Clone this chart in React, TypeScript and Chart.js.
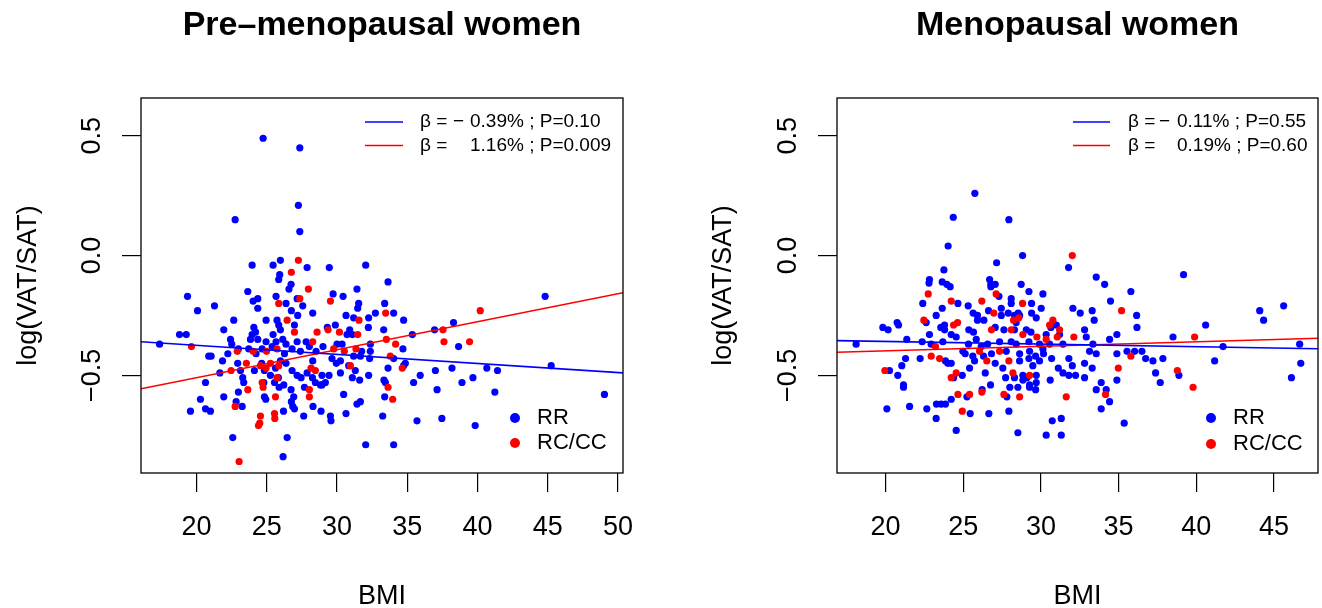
import React, { useEffect, useRef } from "react";
import { Chart, registerables } from "chart.js";

Chart.register(...registerables);

const FONT = '"Liberation Sans", Arial, Helvetica, sans-serif';
const BLUE = "#0000FF";
const RED = "#FF0000";

// ---------------- Pre-menopausal women ----------------
const preRR_BMI = [
  24.74, 27.35, 27.25, 27.35, 22.75, 23.96, 25.45, 25.97, 27.87, 29.45, 32.04, 25.92, 25.85, 26.73, 33.63, 26.58,
  23.65, 31.42, 19.36, 24.36, 25.66, 27.16, 29.72, 30.43, 24.03, 26.37, 21.28, 24.36, 27.56, 31.54, 31.47, 20.07,
  26.75, 27.2, 28.27, 33.39, 34.03, 30.64, 31.18, 32.25, 32.73, 22.65, 24.95, 25.73, 26.97, 34.74, 21.94, 24.08,
  25.85, 25.97, 29.31, 29.88, 30.9, 32.23, 33.32, 18.79, 19.27, 23.96, 24.2, 25.45, 30.71, 31.09, 35.36, 36.94,
  38.29, 44.81, 22.42, 23.84, 24.36, 24.95, 25.66, 26.14, 26.37, 27.16, 27.8, 28.03, 29.0, 30.0, 30.36, 32.37,
  17.37, 22.51, 22.98, 23.72, 24.67, 25.38, 26.8, 27.39, 28.51, 31.75, 32.37, 38.65, 21.04, 20.87, 22.23, 24.24,
  26.26, 29.64, 31.18, 31.66, 32.32, 34.69, 34.03, 21.85, 24.64, 25.97, 26.37, 28.27, 29.95, 30.24, 30.83, 34.86,
  34.74, 22.93, 21.66, 23.13, 24.12, 24.83, 25.62, 26.8, 27.16, 27.87, 31.3, 32.25, 33.63, 37.0, 38.18, 40.66,
  41.42, 45.24, 35.92, 23.29, 25.26, 25.83, 27.44, 28.25, 28.93, 29.43, 30.24, 31.09, 33.34, 39.67, 20.64, 23.36,
  24.79, 25.55, 26.21, 28.46, 28.93, 29.17, 31.61, 33.44, 35.45, 38.89, 25.88, 27.68, 28.82, 22.98, 26.73, 37.12,
  41.23, 30.47, 49.03, 20.28, 21.94, 24.93, 26.92, 33.39, 24.83, 22.82, 23.25, 26.85, 26.75, 31.66, 31.42, 20.64,
  20.99, 19.57, 26.19, 26.97, 28.29, 28.86, 30.64, 27.63, 29.53, 33.25, 29.57, 35.69, 37.46, 39.83, 22.58, 26.45,
  32.04, 34.03, 26.16,
];
const preRR_LOG = [
  0.49, 0.45, 0.21, 0.1, 0.15, -0.04, -0.04, -0.02, -0.05, -0.05, -0.04, -0.08, -0.1, -0.12, -0.11, -0.14,
  -0.15, -0.14, -0.17, -0.18, -0.17, -0.18, -0.16, -0.17, -0.19, -0.2, -0.21, -0.22, -0.21, -0.2, -0.22, -0.23,
  -0.23, -0.25, -0.24, -0.2, -0.24, -0.25, -0.26, -0.26, -0.24, -0.27, -0.27, -0.27, -0.29, -0.27, -0.31, -0.3,
  -0.29, -0.31, -0.3, -0.29, -0.31, -0.3, -0.31, -0.33, -0.33, -0.33, -0.32, -0.33, -0.33, -0.33, -0.33, -0.31,
  -0.28, -0.17, -0.35, -0.35, -0.35, -0.36, -0.36, -0.35, -0.37, -0.36, -0.36, -0.38, -0.38, -0.37, -0.37, -0.37,
  -0.37, -0.37, -0.39, -0.39, -0.39, -0.38, -0.39, -0.4, -0.4, -0.4, -0.4, -0.38, -0.42, -0.42, -0.41, -0.41,
  -0.41, -0.43, -0.42, -0.42, -0.43, -0.39, -0.43, -0.44, -0.45, -0.44, -0.45, -0.44, -0.45, -0.44, -0.46, -0.45,
  -0.46, -0.45, -0.49, -0.48, -0.48, -0.48, -0.47, -0.48, -0.5, -0.49, -0.48, -0.5, -0.47, -0.48, -0.47, -0.47,
  -0.48, -0.46, -0.5, -0.51, -0.5, -0.51, -0.51, -0.51, -0.5, -0.5, -0.49, -0.51, -0.52, -0.51, -0.53, -0.53,
  -0.53, -0.53, -0.54, -0.53, -0.54, -0.53, -0.52, -0.53, -0.53, -0.53, -0.55, -0.55, -0.54, -0.57, -0.56, -0.56,
  -0.57, -0.58, -0.58, -0.6, -0.59, -0.6, -0.59, -0.59, -0.59, -0.61, -0.63, -0.63, -0.61, -0.61, -0.62, -0.64,
  -0.65, -0.65, -0.65, -0.64, -0.63, -0.65, -0.66, -0.67, -0.67, -0.67, -0.69, -0.69, -0.68, -0.71, -0.76, -0.76,
  -0.79, -0.79, -0.84,
];
const preRC_BMI = [
  27.25, 26.75, 27.96, 27.35, 29.53, 25.85, 33.46, 31.56, 26.45, 29.36, 30.17, 28.58, 26.97, 31.47, 37.54, 40.19,
  28.27, 33.51, 34.17, 19.64, 25.73, 29.76, 30.52, 31.35, 37.61, 39.43, 22.9, 24.03, 24.98, 33.79, 25.26, 23.55,
  22.46, 24.55, 24.95, 25.85, 28.15, 28.46, 30.95, 34.64, 25.73, 24.67, 24.74, 23.65, 28.03, 33.63, 25.62, 28.03,
  33.96, 22.75, 24.55, 25.55, 25.57, 24.5, 24.41, 23.03,
];
const preRC_LOG = [
  -0.02, -0.07, -0.14, -0.18, -0.19, -0.2, -0.24, -0.27, -0.27, -0.31, -0.32, -0.32, -0.32, -0.33, -0.31, -0.23,
  -0.36, -0.35, -0.37, -0.38, -0.39, -0.39, -0.4, -0.39, -0.36, -0.36, -0.4, -0.4, -0.4, -0.42, -0.45, -0.45,
  -0.48, -0.46, -0.47, -0.46, -0.47, -0.48, -0.46, -0.47, -0.51, -0.53, -0.55, -0.56, -0.56, -0.55, -0.59, -0.59,
  -0.6, -0.63, -0.67, -0.66, -0.68, -0.7, -0.71, -0.86,
];
const preFitX = [16.05, 50.35];
const preFitRR = [-0.36, -0.49];
const preFitRC = [-0.556, -0.155];
const preXTicks = [20, 25, 30, 35, 40, 45, 50];

// ---------------- Menopausal women ----------------
const menoRR_BMI = [
  25.75, 24.36, 27.94, 24.03, 28.82, 31.78, 27.15, 23.76, 39.18, 22.83, 23.65, 23.95, 24.16, 22.8, 26.7, 26.78,
  27.06, 26.78, 28.73, 33.56, 34.1, 27.3, 29.23, 30.13, 35.79, 22.4, 24.66, 23.65, 28.09, 28.09, 29.4, 34.48,
  25.32, 26.63, 27.45, 27.9, 28.54, 29.4, 30.02, 23.26, 25.64, 25.92, 27.45, 28.3, 28.63, 29.7, 32.06, 32.53,
  33.3, 36.16, 44.08, 45.62, 22.62, 20.75, 20.84, 19.83, 20.17, 23.56, 23.8, 25.92, 26.33, 28.41, 30.99, 30.64,
  33.43, 36.18, 40.6, 44.33, 23.8, 22.83, 24.23, 24.55, 25.36, 25.66, 27.06, 27.62, 28.3, 29.06, 29.36, 30.34,
  31.2, 32.81, 32.92, 34.89, 38.5, 21.37, 22.36, 18.11, 22.94, 23.69, 25.34, 25.84, 26.16, 26.57, 27.34, 28.09,
  28.41, 29.23, 29.91, 30.13, 30.56, 31.42, 33.35, 34.42, 41.72, 46.65, 24.98, 25.13, 25.62, 26.31, 26.82, 27.77,
  28.63, 29.27, 29.66, 30.17, 30.69, 33.13, 33.56, 34.89, 35.54, 36.03, 36.5, 21.29, 22.23, 23.86, 25.73, 27.06,
  28.63, 29.23, 29.91, 31.8, 36.74, 37.21, 37.85, 41.18, 46.72, 21.05, 24.01, 24.23, 25.41, 27.55, 29.48, 31.12,
  32.02, 32.81, 33.3, 20.26, 20.79, 24.38, 24.94, 26.42, 27.73, 28.3, 28.84, 29.1, 29.7, 31.42, 31.8, 32.23,
  32.81, 34.89, 46.12, 38.88, 21.16, 21.16, 28.84, 29.27, 29.7, 30.6, 26.76, 28.0, 28.52, 29.27, 29.66, 26.22,
  33.88, 33.56, 34.2, 37.68, 37.38, 25.24, 27.81, 24.23, 34.42, 23.28, 23.58, 23.86, 21.55, 22.66, 20.09, 33.88,
  25.45, 26.65, 27.94, 23.26, 30.73, 31.31, 35.36, 24.55, 28.52, 30.34, 31.31,
];
const menoRR_LOG = [
  0.26, 0.16, 0.15, 0.04, 0.0, -0.05, -0.03, -0.06, -0.08, -0.1, -0.11, -0.12, -0.13, -0.115, -0.1, -0.12,
  -0.12, -0.13, -0.12, -0.09, -0.12, -0.17, -0.15, -0.16, -0.15, -0.2, -0.2, -0.22, -0.18, -0.2, -0.2, -0.19,
  -0.21, -0.23, -0.22, -0.24, -0.24, -0.24, -0.22, -0.25, -0.24, -0.25, -0.25, -0.25, -0.25, -0.26, -0.22, -0.24,
  -0.23, -0.25, -0.23, -0.21, -0.28, -0.28, -0.29, -0.3, -0.31, -0.3, -0.29, -0.27, -0.27, -0.28, -0.29, -0.3,
  -0.27, -0.3, -0.29, -0.27, -0.31, -0.33, -0.33, -0.34, -0.31, -0.32, -0.3, -0.31, -0.31, -0.31, -0.32, -0.33,
  -0.33, -0.31, -0.34, -0.33, -0.34, -0.35, -0.36, -0.37, -0.37, -0.36, -0.37, -0.35, -0.38, -0.37, -0.36, -0.36,
  -0.37, -0.36, -0.37, -0.39, -0.37, -0.37, -0.37, -0.35, -0.38, -0.37, -0.4, -0.41, -0.42, -0.42, -0.41, -0.4,
  -0.41, -0.4, -0.42, -0.41, -0.43, -0.4, -0.41, -0.41, -0.4, -0.4, -0.4, -0.43, -0.43, -0.44, -0.44, -0.45,
  -0.44, -0.43, -0.44, -0.43, -0.43, -0.44, -0.43, -0.44, -0.45, -0.46, -0.45, -0.45, -0.47, -0.47, -0.46, -0.47,
  -0.46, -0.45, -0.47, -0.48, -0.5, -0.51, -0.5, -0.49, -0.51, -0.51, -0.5, -0.51, -0.5, -0.49, -0.5, -0.5,
  -0.51, -0.52, -0.51, -0.5, -0.54, -0.55, -0.52, -0.54, -0.53, -0.52, -0.54, -0.55, -0.55, -0.55, -0.56, -0.56,
  -0.53, -0.56, -0.56, -0.53, -0.49, -0.59, -0.59, -0.6, -0.61, -0.62, -0.62, -0.62, -0.63, -0.64, -0.64, -0.64,
  -0.66, -0.66, -0.65, -0.68, -0.69, -0.68, -0.7, -0.73, -0.74, -0.75, -0.75,
];
const menoRC_BMI = [
  32.02, 22.75, 27.12, 24.23, 26.2, 28.82, 35.19, 26.97, 22.47, 24.38, 24.64, 28.24, 28.58, 30.77, 30.56, 31.2,
  26.82, 28.09, 28.84, 29.74, 30.34, 31.05, 32.12, 39.89, 23.22, 27.34, 26.05, 35.79, 22.94, 23.48, 26.52, 27.94,
  34.98, 19.96, 24.55, 24.23, 28.2, 29.27, 38.78, 39.79, 24.66, 25.41, 26.2, 27.62, 28.63, 31.63, 34.16, 24.94,
];
const menoRC_LOG = [
  0.0, -0.16, -0.16, -0.19, -0.19, -0.2, -0.23, -0.24, -0.27, -0.29, -0.28, -0.27, -0.26, -0.27, -0.29, -0.31,
  -0.31, -0.31, -0.33, -0.34, -0.35, -0.34, -0.34, -0.34, -0.38, -0.4, -0.4, -0.42, -0.42, -0.43, -0.44, -0.44,
  -0.47, -0.48, -0.49, -0.51, -0.49, -0.5, -0.48, -0.55, -0.58, -0.58, -0.57, -0.58, -0.59, -0.59, -0.58, -0.65,
];
const menoFitX = [16.88, 47.83];
const menoFitRR = [-0.355, -0.389];
const menoFitRC = [-0.404, -0.345];
const menoXTicks = [20, 25, 30, 35, 40, 45];

const yTicks = [-0.5, 0, 0.5];
const groupLabels = ["RR", "RC/CC"];
const preStats = [
  ["β =", "−", "0.39% ; P=0.10"],
  ["β =", "", "1.16% ; P=0.009"],
];
const menoStats = [
  ["β =", "−", "0.11% ; P=0.55"],
  ["β =", "", "0.19% ; P=0.60"],
];

const zip = (xs: number[], ys: number[]) => xs.map((x, i) => ({ x, y: ys[i] }));
const fmtY = (v: number) => (v < 0 ? "−" : "") + Math.abs(v).toFixed(1);

const decorPlugin = {
  id: "decor",
  afterDatasetsDraw(chart: any, _args: any, opts: any) {
    const { ctx, chartArea: a } = chart;
    ctx.save();
    ctx.strokeStyle = "#000";
    ctx.lineWidth = 1.3;
    ctx.strokeRect(a.left, a.top, a.right - a.left, a.bottom - a.top);

    // regression legend
    const L = opts.stat;
    ctx.font = `19px ${FONT}`;
    ctx.textBaseline = "middle";
    ctx.textAlign = "left";
    L.rows.forEach((row: string[], i: number) => {
      const y = L.y0 + i * L.dy;
      ctx.strokeStyle = i === 0 ? BLUE : RED;
      ctx.lineWidth = 1.6;
      ctx.beginPath();
      ctx.moveTo(L.lineX0, y);
      ctx.lineTo(L.lineX1, y);
      ctx.stroke();
      ctx.fillStyle = "#000";
      ctx.fillText(row[0], L.betaX, y);
      if (row[1]) ctx.fillText(row[1], L.signX, y);
      ctx.fillText(row[2], L.numX, y);
    });

    // group legend
    const G = opts.group;
    ctx.font = `22px ${FONT}`;
    groupLabels.forEach((lab, i) => {
      const y = G.y0 + i * G.dy;
      ctx.fillStyle = i === 0 ? BLUE : RED;
      ctx.beginPath();
      ctx.arc(G.dotX, y, 5, 0, Math.PI * 2);
      ctx.fill();
      ctx.fillStyle = "#000";
      ctx.fillText(lab, G.textX, y);
    });
    ctx.restore();
  },
};

type PanelCfg = {
  title: string;
  rrX: number[];
  rrY: number[];
  rcX: number[];
  rcY: number[];
  fitX: number[];
  fitRR: number[];
  fitRC: number[];
  xTicks: number[];
  xMin: number;
  xMax: number;
  yAxisWidth: number;
  padRight: number;
  yTitlePad: number;
  stats: string[][];
  stat: any;
  group: any;
};

function Panel({ cfg, left }: { cfg: PanelCfg; left: number }) {
  const ref = useRef<HTMLCanvasElement | null>(null);
  useEffect(() => {
    if (!ref.current) return;
    const chart = new Chart(ref.current, {
      type: "scatter",
      data: {
        datasets: [
          {
            label: "fitRR",
            data: zip(cfg.fitX, cfg.fitRR),
            showLine: true,
            borderColor: BLUE,
            borderWidth: 1.6,
            pointRadius: 0,
            order: 0,
          } as any,
          {
            label: "fitRC",
            data: zip(cfg.fitX, cfg.fitRC),
            showLine: true,
            borderColor: RED,
            borderWidth: 1.6,
            pointRadius: 0,
            order: 1,
          },
          {
            label: "RC/CC",
            data: zip(cfg.rcX, cfg.rcY),
            backgroundColor: RED,
            borderWidth: 0,
            pointRadius: 3.6,
            order: 2,
          },
          {
            label: "RR",
            data: zip(cfg.rrX, cfg.rrY),
            backgroundColor: BLUE,
            borderWidth: 0,
            pointRadius: 3.6,
            order: 3,
          },
        ],
      },
      options: {
        responsive: false,
        animation: false,
        devicePixelRatio: 1,
        events: [],
        layout: { padding: { left: 0, right: cfg.padRight, top: 0, bottom: 0 } },
        plugins: {
          legend: { display: false },
          tooltip: { enabled: false },
          title: {
            display: true,
            text: cfg.title,
            fullSize: false,
            color: "#000",
            font: { family: FONT, size: 34, weight: "bold" },
            padding: { top: 5, bottom: 52.2 },
          },
          decor: { stat: { ...cfg.stat, rows: cfg.stats }, group: cfg.group },
        } as any,
        scales: {
          x: {
            type: "linear",
            min: cfg.xMin,
            max: cfg.xMax,
            afterBuildTicks: (s: any) => {
              s.ticks = cfg.xTicks.map((v) => ({ value: v }));
            },
            afterFit: (s: any) => {
              s.height = 135;
            },
            border: { display: false },
            grid: { drawOnChartArea: false, drawTicks: true, tickLength: 19, color: "#000", lineWidth: 1.2 },
            ticks: {
              color: "#000",
              font: { family: FONT, size: 27 },
              padding: 19,
              maxRotation: 0,
              minRotation: 0,
              autoSkip: false,
              callback: (v: any) => String(v),
            },
            title: {
              display: true,
              text: "BMI",
              color: "#000",
              font: { family: FONT, size: 27 },
              padding: { top: 0, bottom: -5 },
            },
          },
          y: {
            type: "linear",
            min: -0.908,
            max: 0.658,
            afterBuildTicks: (s: any) => {
              s.ticks = yTicks.map((v) => ({ value: v }));
            },
            afterFit: (s: any) => {
              s.width = cfg.yAxisWidth;
            },
            border: { display: false },
            grid: { drawOnChartArea: false, drawTicks: true, tickLength: 19, color: "#000", lineWidth: 1.2 },
            ticks: {
              color: "#000",
              font: { family: FONT, size: 27 },
              padding: 3,
              minRotation: 90,
              maxRotation: 90,
              crossAlign: "center",
              autoSkip: false,
              callback: (v: any) => fmtY(Number(v)),
            },
            title: {
              display: true,
              text: "log(VAT/SAT)",
              color: "#000",
              font: { family: FONT, size: 27 },
              padding: { top: cfg.yTitlePad, bottom: 0 },
            },
          },
        },
      },
      plugins: [decorPlugin],
    });
    return () => chart.destroy();
  }, [cfg]);
  return (
    <canvas
      ref={ref}
      width={661}
      height={608}
      style={{ position: "absolute", left, top: 0, width: 661, height: 608 }}
    />
  );
}

const preCfg: PanelCfg = {
  title: "Pre–menopausal women",
  rrX: preRR_BMI,
  rrY: preRR_LOG,
  rcX: preRC_BMI,
  rcY: preRC_LOG,
  fitX: preFitX,
  fitRR: preFitRR,
  fitRC: preFitRC,
  xTicks: preXTicks,
  xMin: 16.05,
  xMax: 50.35,
  yAxisWidth: 141,
  padRight: 38,
  yTitlePad: 12,
  stats: preStats,
  stat: { y0: 122, dy: 23.5, lineX0: 365, lineX1: 403, betaX: 420, signX: 453, numX: 470 },
  group: { y0: 418, dy: 25, dotX: 515, textX: 537 },
};

const menoCfg: PanelCfg = {
  title: "Menopausal women",
  rrX: menoRR_BMI,
  rrY: menoRR_LOG,
  rcX: menoRC_BMI,
  rcY: menoRC_LOG,
  fitX: menoFitX,
  fitRR: menoFitRR,
  fitRC: menoFitRC,
  xTicks: menoXTicks,
  xMin: 16.88,
  xMax: 47.83,
  yAxisWidth: 176,
  padRight: 4,
  yTitlePad: 46,
  stats: menoStats,
  stat: { y0: 122, dy: 23.5, lineX0: 412, lineX1: 449, betaX: 467, signX: 498, numX: 516 },
  group: { y0: 418, dy: 26, dotX: 550, textX: 572 },
};

export default function App() {
  return (
    <div
      style={{
        position: "absolute",
        left: 0,
        top: 0,
        width: 1322,
        height: 608,
        background: "#fff",
        overflow: "hidden",
      }}
    >
      <Panel cfg={preCfg} left={0} />
      <Panel cfg={menoCfg} left={661} />
    </div>
  );
}
